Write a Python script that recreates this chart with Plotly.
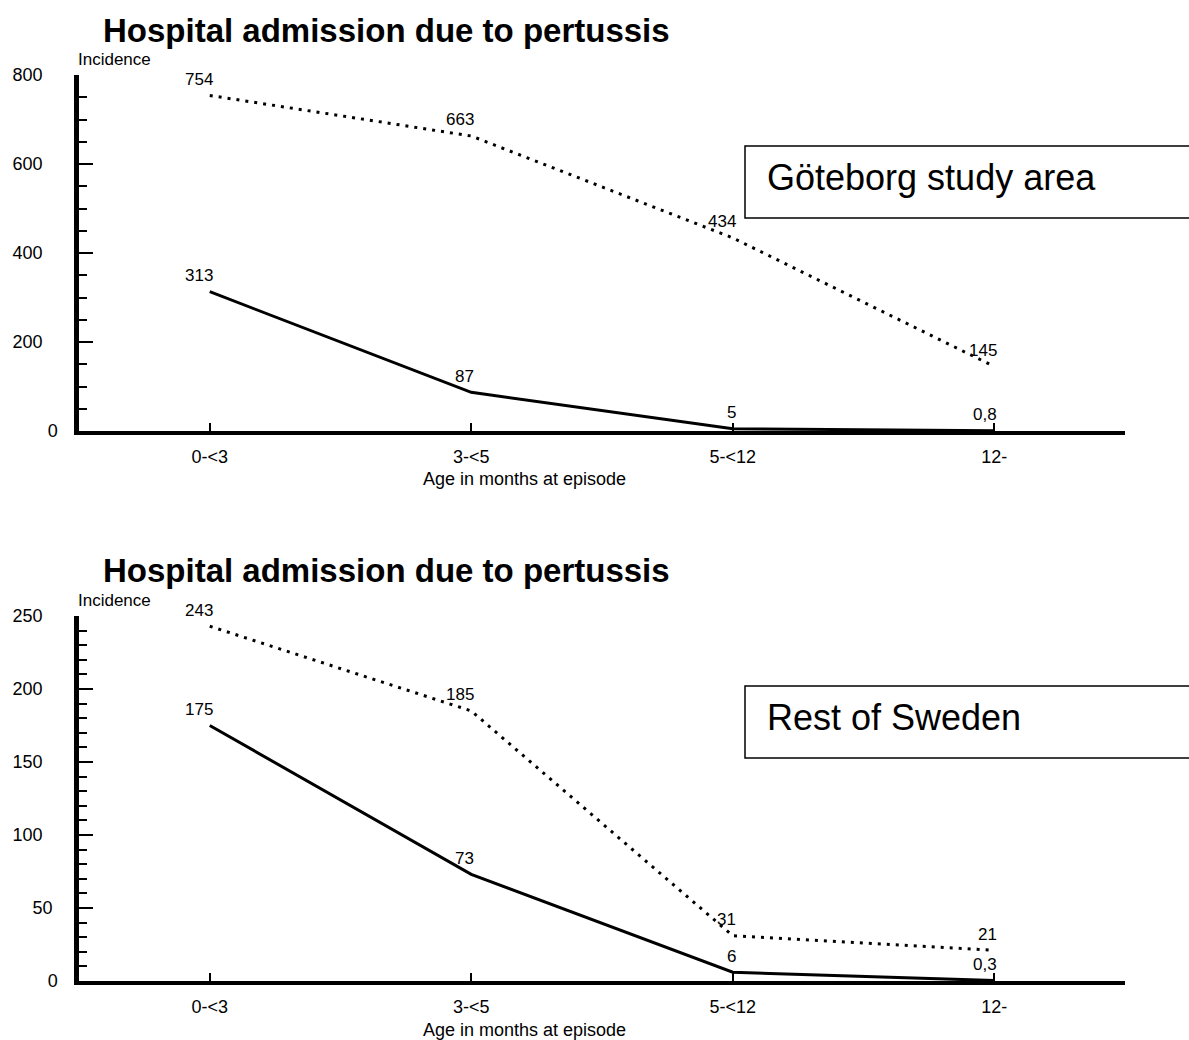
import plotly.graph_objects as go

# Age groups (months at episode)
age_groups = ["0-<3", "3-<5", "5-<12", "12-"]

# Göteborg study area: incidence of hospital admission
gbg_dotted = [754, 663, 434, 145]
gbg_solid = [313, 87, 5, 0.8]

# Rest of Sweden: incidence of hospital admission
swe_dotted = [243, 185, 31, 21]
swe_solid = [175, 73, 6, 0.3]

top_ticks = [0, 200, 400, 600, 800]
bottom_ticks = [0, 50, 100, 150, 200, 250]

W, H = 1189, 1040
FONT = "Liberation Sans, Arial, sans-serif"
NBSP = "\u00a0"


def px(x):
    return x / W


def py(y):
    return 1 - y / H


def fmt(v):
    s = f"{v:g}"
    return s.replace(".", ",")


def tick_text(vals):
    # wider numbers sit a little further from the axis line
    pad = {1: 0, 2: 1, 3: 3}
    return [str(v) + NBSP * pad[len(str(v))] for v in vals]


fig = go.Figure()

panels = [
    ("x", "y", gbg_dotted, gbg_solid),
    ("x2", "y2", swe_dotted, swe_solid),
]

for xa, ya, dotted, solid in panels:
    fig.add_trace(go.Scatter(
        x=age_groups, y=dotted, xaxis=xa, yaxis=ya, mode="lines",
        line=dict(color="black", width=3, dash="3px,6px"),
        cliponaxis=False, showlegend=False, hoverinfo="skip"))
    fig.add_trace(go.Scatter(
        x=age_groups, y=solid, xaxis=xa, yaxis=ya, mode="lines",
        line=dict(color="black", width=3),
        cliponaxis=False, showlegend=False, hoverinfo="skip"))
    for series in (dotted, solid):
        for cat, v in zip(age_groups, series):
            fig.add_annotation(
                x=cat, y=v, xref=xa, yref=ya, text=fmt(v), showarrow=False,
                xanchor="right", yanchor="middle", xshift=5, yshift=16,
                font=dict(family=FONT, size=17, color="black"))

x_dom = [px(79), px(1125)]

common_x = dict(
    type="category", categoryorder="array", categoryarray=age_groups,
    range=[-0.5, 3.5], showline=True, linecolor="black", linewidth=3.5,
    ticks="inside", ticklen=8, tickwidth=1.5, tickcolor="black",
    showgrid=False, zeroline=False, ticklabelstandoff=7, automargin=False,
    tickfont=dict(family=FONT, size=18, color="black"),
    domain=x_dom, fixedrange=True)

common_y = dict(
    showline=True, linecolor="black", linewidth=4.5,
    ticks="inside", ticklen=14, tickwidth=1.5, tickcolor="black",
    showgrid=False, zeroline=False, ticklabelstandoff=13, automargin=False,
    tickfont=dict(family=FONT, size=18, color="black"), fixedrange=True)

fig.update_layout(
    width=W, height=H,
    margin=dict(l=0, r=0, t=0, b=0, pad=0, autoexpand=False),
    paper_bgcolor="white", plot_bgcolor="white",
    xaxis=dict(common_x, anchor="y"),
    yaxis=dict(common_y, anchor="x", range=[0, 800],
               tickvals=top_ticks, ticktext=tick_text(top_ticks),
               minor=dict(dtick=50, ticks="inside", ticklen=8,
                          tickwidth=1.5, tickcolor="black"),
               domain=[py(431), py(75)]),
    xaxis2=dict(common_x, anchor="y2"),
    yaxis2=dict(common_y, anchor="x2", range=[0, 250],
                tickvals=bottom_ticks, ticktext=tick_text(bottom_ticks),
                minor=dict(dtick=10, ticks="inside", ticklen=8,
                           tickwidth=1.5, tickcolor="black"),
                domain=[py(981), py(616)]),
)

# Panel titles, axis captions and region boxes
for title_y, inc_y, xlab_y, box_y0, box_y1, text_y, region in [
    (30, 59, 479, 146, 218, 177, "Göteborg study area"),
    (570, 600, 1030, 686, 758, 717, "Rest of Sweden"),
]:
    fig.add_annotation(
        x=px(101), y=py(title_y), xref="paper", yref="paper",
        text="<b>Hospital admission due to pertussis</b>", showarrow=False,
        xanchor="left", yanchor="middle",
        font=dict(family=FONT, size=33, color="black"))
    fig.add_annotation(
        x=px(76), y=py(inc_y), xref="paper", yref="paper",
        text="Incidence", showarrow=False, xanchor="left", yanchor="middle",
        font=dict(family=FONT, size=17, color="black"))
    fig.add_annotation(
        x=px(524), y=py(xlab_y), xref="paper", yref="paper",
        text="Age in months at episode", showarrow=False,
        xanchor="center", yanchor="middle",
        font=dict(family=FONT, size=18, color="black"))
    fig.add_shape(
        type="rect", xref="paper", yref="paper",
        x0=px(745), x1=px(1210), y0=py(box_y1), y1=py(box_y0),
        line=dict(color="black", width=1.5), fillcolor="white", layer="above")
    fig.add_annotation(
        x=px(765), y=py(text_y), xref="paper", yref="paper",
        text=region, showarrow=False, xanchor="left", yanchor="middle",
        font=dict(family=FONT, size=36, color="black"))

fig.write_html("out.html")
